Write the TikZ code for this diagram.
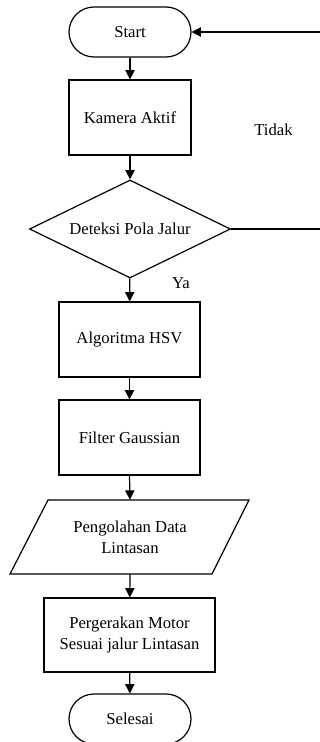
\documentclass[tikz,border=0pt]{standalone}
\usepackage{fontspec}
\setmainfont{Liberation Serif}
\usetikzlibrary{shapes.geometric,arrows.meta,calc}
\begin{document}
\begin{tikzpicture}[x=0.75pt,y=-0.75pt,
  every node/.style={font=\fontsize{12.5}{15.5}\selectfont, align=center},
  term/.style={draw, fill=white, line width=0.9pt, rectangle, rounded corners=18.75pt, minimum width=91.5pt, minimum height=37.5pt, inner sep=0pt},
  proc/.style={draw, fill=white, line width=0.9pt, rectangle, minimum height=56.25pt, inner sep=0pt},
  dec/.style={draw, fill=white, line width=0.9pt, diamond, shape aspect=2, minimum width=150.75pt, minimum height=73.5pt, inner sep=0pt},
  conn/.style={line width=0.9pt, -{Triangle[length=7pt,width=7pt]}},
  plain/.style={line width=0.9pt}
]
\useasboundingbox (0,0) rectangle (320,742);
\clip (0,0) rectangle (320,742);
\node[term] (start) at (130,32) {Start};
\node[proc, minimum width=91.5pt] (cam) at (130,117.5) {Kamera Aktif};
\node[dec] (det) at (130,229) {Deteksi Pola Jalur};
\node[proc, minimum width=105.75pt] (hsv) at (129.5,339.5) {Algoritma HSV};
\node[proc, minimum width=105.75pt] (gau) at (129.5,437.5) {Filter Gaussian};
\node[minimum height=55.5pt, inner sep=0pt] (pd) at (130,537) {};
\draw[line width=0.9pt, fill=white] ($(pd)+(-82,-37)$) -- ($(pd)+(119,-37)$) -- ($(pd)+(82,37)$) -- ($(pd)+(-120,37)$) -- cycle;
\node at (pd) {Pengolahan Data\\Lintasan};
\node[proc, minimum width=128.25pt, minimum height=55.5pt] (mot) at (129.5,635) {Pergerakan Motor\\Sesuai jalur Lintasan};
\node[term] (end) at (130,719) {Selesai};
\coordinate (r1) at (322,229);
\coordinate (r2) at (322,32);
\node (tidak) at (273.5,130) {Tidak};
\node (ya) at (181,283) {Ya};
\draw[conn] (start) -- (cam);
\draw[conn] (cam) -- (det);
\draw[conn] (det) -- (hsv);
\draw[conn] (hsv) -- (gau);
\draw[conn] (gau.south) -- (pd.north);
\draw[conn] (pd.south) -- (mot);
\draw[conn] (mot) -- (end);
\draw[conn] (det.east) -- (r1) -- (r2) -- (start.east);
\end{tikzpicture}
\end{document}
